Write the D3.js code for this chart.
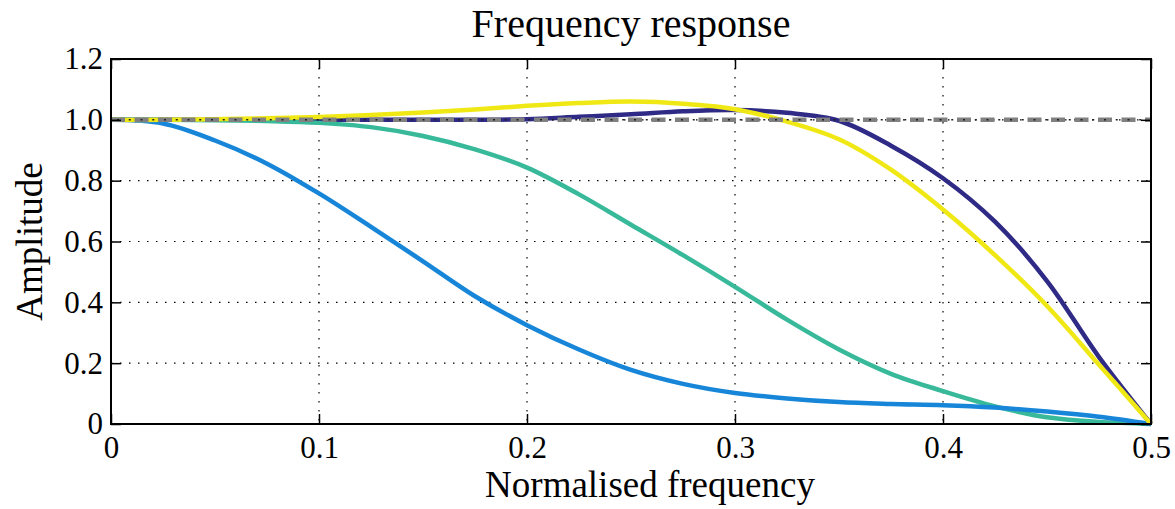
<!DOCTYPE html>
<html>
<head>
<meta charset="utf-8">
<script src="https://cdn.jsdelivr.net/npm/d3@7"></script>
<style>
  body { margin: 0; background: #fff; }
  text { font-family: "Liberation Serif", "Times New Roman", serif; fill: #000; }
</style>
</head>
<body>
<div id="chart"></div>
<script>
// normalised frequency samples
const freqs = [0, 0.025, 0.05, 0.075, 0.1, 0.125, 0.15, 0.175, 0.2, 0.225, 0.25,
  0.275, 0.3, 0.325, 0.35, 0.375, 0.4, 0.425, 0.45, 0.475, 0.5]

const navyResp = [1.0, 1.0, 1.0, 1.0, 1.0, 1.0, 1.0, 1.0, 1.002, 1.01, 1.018,
  1.028, 1.032, 1.023, 0.997, 0.915, 0.808, 0.665, 0.47, 0.22, 0.0]
const tealResp = [1.0, 1.0, 0.999, 0.996, 0.99, 0.976, 0.947, 0.903, 0.843, 0.755, 0.655,
  0.555, 0.451, 0.343, 0.245, 0.165, 0.108, 0.058, 0.022, 0.007, 0.0]
const blueResp = [1.0, 0.988, 0.932, 0.856, 0.758, 0.648, 0.535, 0.42, 0.325, 0.245, 0.178,
  0.132, 0.102, 0.084, 0.072, 0.066, 0.062, 0.054, 0.041, 0.024, 0.0]
const yellowResp = [1.0, 1.0, 1.002, 1.005, 1.009, 1.016, 1.024, 1.034, 1.046, 1.055, 1.06,
  1.053, 1.035, 0.994, 0.936, 0.836, 0.705, 0.555, 0.388, 0.195, 0.0]

const seriesNames = ['navy', 'teal', 'blue', 'yellow']
const seriesValues = [navyResp, tealResp, blueResp, yellowResp]
const seriesColors = ['#2f2a85', '#38b99a', '#1786d9', '#f0e814']

const xTicks = [0, 0.1, 0.2, 0.3, 0.4, 0.5]
const yTicks = [0, 0.2, 0.4, 0.6, 0.8, 1.0, 1.2]
const refLevel = 1.0

const width = 1175
const height = 509
const margin = {top: 59, right: 24, bottom: 85, left: 111}
const gw = width - margin.left - margin.right
const gh = height - margin.top - margin.bottom

const svg = d3.select('#chart')
  .append('svg')
  .attr('width', width)
  .attr('height', height)

const x = d3.scaleLinear().domain([0, 0.5]).range([0, gw])
const y = d3.scaleLinear().domain([0, 1.2]).range([gh, 0])

const g = svg.append('g')
  .attr('transform', `translate(${margin.left}, ${margin.top})`)

// dotted grid
g.append('g')
  .selectAll('line')
  .data(xTicks.slice(1, -1))
  .enter()
  .append('line')
  .attr('x1', d => x(d)).attr('x2', d => x(d))
  .attr('y1', 0).attr('y2', gh)
  .attr('stroke', '#000')
  .attr('stroke-width', 1.2)
  .attr('stroke-dasharray', '1.5,7.5')

g.append('g')
  .selectAll('line')
  .data(yTicks.slice(1, -1))
  .enter()
  .append('line')
  .attr('x1', 0).attr('x2', gw)
  .attr('y1', d => y(d)).attr('y2', d => y(d))
  .attr('stroke', '#000')
  .attr('stroke-width', 1.2)
  .attr('stroke-dasharray', '1.5,7.5')

// curves
const line = d3.line()
  .x((d, i) => x(freqs[i]))
  .y(d => y(d))
  .curve(d3.curveCatmullRom.alpha(0.5))

g.append('g')
  .selectAll('path')
  .data(seriesValues)
  .enter()
  .append('path')
  .attr('d', d => line(d))
  .attr('fill', 'none')
  .attr('stroke', (d, i) => seriesColors[i])
  .attr('stroke-width', 4.5)
  .attr('class', (d, i) => seriesNames[i])

// reference level at 1.0
g.append('line')
  .attr('x1', 0).attr('x2', gw)
  .attr('y1', y(refLevel)).attr('y2', y(refLevel))
  .attr('stroke', '#808080')
  .attr('stroke-width', 4.5)
  .attr('stroke-dasharray', '14,9.5')
g.append('line')
  .attr('x1', 0).attr('x2', gw)
  .attr('y1', y(refLevel)).attr('y2', y(refLevel))
  .attr('stroke', '#222')
  .attr('stroke-width', 1.5)
  .attr('stroke-dasharray', '2,9.75')
  .attr('stroke-dashoffset', -6)

// axes with inward ticks
const fmt = d => d === 0 ? '0' : d.toFixed(1)

g.append('g')
  .attr('transform', `translate(0, ${gh})`)
  .call(d3.axisBottom(x).tickValues(xTicks).tickFormat(fmt).tickSizeInner(-10).tickSizeOuter(0).tickPadding(12))
g.append('g')
  .call(d3.axisLeft(y).tickValues(yTicks).tickFormat(fmt).tickSizeInner(-10).tickSizeOuter(0).tickPadding(8))
g.append('g')
  .call(d3.axisTop(x).tickValues(xTicks).tickFormat('').tickSizeInner(-10).tickSizeOuter(0))
g.append('g')
  .attr('transform', `translate(${gw}, 0)`)
  .call(d3.axisRight(y).tickValues(yTicks).tickFormat('').tickSizeInner(-10).tickSizeOuter(0))

g.selectAll('.domain').remove()
g.selectAll('.tick line').attr('stroke', '#000').attr('stroke-width', 1.5)
g.selectAll('.tick text')
  .style('font-family', '"Liberation Serif", serif')
  .style('font-size', '31px')
  .attr('fill', '#000')

// frame
g.append('rect')
  .attr('width', gw)
  .attr('height', gh)
  .attr('fill', 'none')
  .attr('stroke', '#000')
  .attr('stroke-width', 2)

// titles
svg.append('text')
  .attr('x', margin.left + gw / 2)
  .attr('y', 37)
  .attr('text-anchor', 'middle')
  .style('font-size', '40px')
  .text('Frequency response')

svg.append('text')
  .attr('x', 650)
  .attr('y', 497)
  .attr('text-anchor', 'middle')
  .style('font-size', '37px')
  .text('Normalised frequency')

svg.append('text')
  .attr('transform', `translate(42, ${margin.top + gh / 2}) rotate(-90)`)
  .attr('text-anchor', 'middle')
  .style('font-size', '37px')
  .text('Amplitude')
</script>
</body>
</html>
